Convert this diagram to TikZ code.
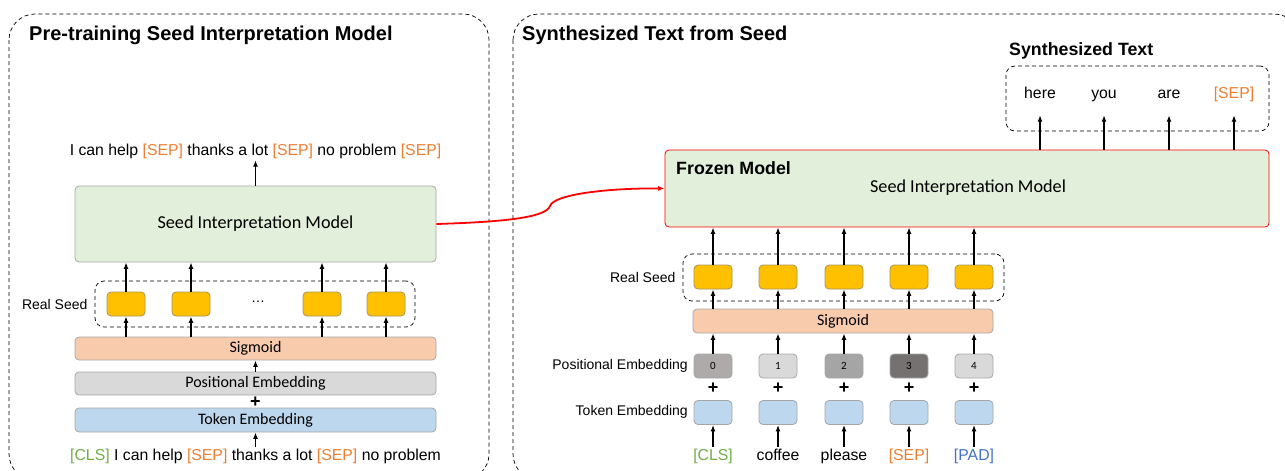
\documentclass[tikz,border=0pt]{standalone}
\usepackage{fontspec}
\setmainfont{Liberation Sans}
\newfontfamily\cfont{Carlito}
\usepackage{tikz}
\usetikzlibrary{positioning,arrows.meta}

\definecolor{sepc}{HTML}{ED7D31}
\definecolor{clsc}{HTML}{70AD47}
\definecolor{padc}{HTML}{4472C4}
\definecolor{modelc}{HTML}{E2EFDA}
\definecolor{seedc}{HTML}{FFC000}
\definecolor{sigc}{HTML}{F8CBAD}
\definecolor{posc}{HTML}{D9D9D9}
\definecolor{tokc}{HTML}{BDD7EE}
\definecolor{edgec}{HTML}{A6A6A6}

\newcommand{\sep}{\textcolor{sepc}{[SEP]}}

\tikzset{
  box/.style={draw=edgec, line width=0.8pt, rounded corners=4pt, inner sep=0pt,
    font=\cfont\fontsize{16}{19}\selectfont},
  seedbox/.style={box, fill=seedc, draw=gray!70!seedc, minimum width=38pt, minimum height=24pt},
  tokbox/.style={box, fill=tokc, minimum width=38pt, minimum height=24pt},
  posbox/.style={box, minimum width=38pt, minimum height=24pt, font=\cfont\fontsize{11}{13}\selectfont},
  groupbox/.style={draw, dashed, dash pattern=on 4pt off 3pt, line width=0.7pt, rounded corners=9pt, inner sep=0pt},
  lbl/.style={font=\fontsize{14}{17}\selectfont, inner sep=2pt},
  title/.style={font=\bfseries\fontsize{20}{24}\selectfont, anchor=west, inner sep=0pt},
  subtitle/.style={title, font=\bfseries\fontsize{17.8}{21}\selectfont},
  word/.style={lbl, font=\fontsize{15.8}{19}\selectfont, text height=11pt, text depth=3pt},
  plus/.style={font=\bfseries\fontsize{18}{18}\selectfont, inner sep=0pt},
}

\begin{document}
\begin{tikzpicture}[x=1pt, y=-1pt, >={Latex[length=6.5pt,width=5pt]}, arr/.style={->, line width=1.6pt}]
  \useasboundingbox (0,0) rectangle (1285,471);

  % Draw the two dashed panels
  \draw[dashed, dash pattern=on 4pt off 3pt, line width=0.7pt, rounded corners=26pt] (9,14) rectangle (489,480);
  \draw[dashed, dash pattern=on 4pt off 3pt, line width=0.7pt, rounded corners=26pt] (513,14) rectangle (1300,480);
  \node[title] (ltitle) at (29,35) {Pre-training Seed Interpretation Model};
  \node[title] (rtitle) at (522,35) {Synthesized Text from Seed};

  % Left panel: the model being trained
  \node[box, fill=modelc, minimum width=361pt, minimum height=76pt,
    font=\cfont\fontsize{18.2}{22}\selectfont] (lmodel) at (255.5,224) {Seed Interpretation Model};
  \node[word] (lout) at (255.5,151) {I can help \sep{} thanks a lot \sep{} no problem \sep};
  \draw[arr] (lmodel.north) -- (lout.south);

  % Real seed vectors
  \node[groupbox, minimum width=320pt, minimum height=46pt] (lgroup) at (255,304) {};
  \node[lbl, anchor=east] (lseedlbl) at ([xshift=-5pt]lgroup.west) {Real Seed};
  \foreach \x/\n in {126/1,191/2,322/3,386/4}
    \node[seedbox] (ls\n) at (\x,304) {};
  \node[lbl] (ldots) at (258,302) {\dots};

  % Sigmoid and embeddings
  \node[box, fill=sigc, minimum width=361pt, minimum height=23pt] (lsig) at (255.5,348.5) {Sigmoid};
  \node[box, fill=posc, minimum width=361pt, minimum height=23pt] (lpos) at (255.5,383.5) {Positional Embedding};
  \node[plus] (lplus) at (255.5,402) {+};
  \node[box, fill=tokc, minimum width=361pt, minimum height=24pt] (ltok) at (255.5,420) {Token Embedding};
  \node[word] (lin) at (255.5,456) {\textcolor{clsc}{[CLS]} I can help \sep{} thanks a lot \sep{} no problem};

  \foreach \n in {1,2,3,4} {
    \draw[arr] (ls\n.north) -- (ls\n.north |- lmodel.south);
    \draw[arr] (ls\n.south |- lsig.north) -- (ls\n.south);
  }
  \draw[arr] (lpos.north) -- (lsig.south);
  \draw[arr] (lin.north) -- (ltok.south);

  % Right panel: frozen model
  \node[box, fill=modelc, draw=red, minimum width=604pt, minimum height=77pt] (rmodel) at (967,188.5) {};
  \node[subtitle] (frozen) at (676,168) {Frozen Model};
  \node[font=\cfont\fontsize{18.2}{22}\selectfont] (rname) at (968,188) {Seed Interpretation Model};

  % Synthesized words
  \node[groupbox, minimum width=263pt, minimum height=65pt] (sgroup) at (1137.5,98.5) {};
  \node[subtitle] (stitle) at (1009,51) {Synthesized Text};
  \foreach \x/\w/\n in {1040/here/1,1104/you/2,1169/are/3,1234/\sep/4} {
    \node[word] (w\n) at (\x,94) {\w};
    \draw[arr] (w\n.south |- rmodel.north) -- ([yshift=-12pt]w\n.south);
  }

  % Seed, sigmoid and embeddings on the right
  \node[groupbox, minimum width=321pt, minimum height=47pt] (rgroup) at (843.5,277.5) {};
  \node[lbl, anchor=east] (rseedlbl) at ([xshift=-5pt]rgroup.west) {Real Seed};
  \node[box, fill=sigc, minimum width=300pt, minimum height=24pt] (rsig) at (843,321) {Sigmoid};
  \node[lbl, anchor=east] (rposlbl) at (690,366) {Positional Embedding};
  \node[lbl, anchor=east] (rtoklbl) at (690,412) {Token Embedding};

  \foreach \x/\n/\g/\w in {713/0/AEAAAA/\textcolor{clsc}{[CLS]},
                          778/1/D9D9D9/coffee,
                          844/2/A5A5A5/please,
                          909/3/767171/\sep,
                          974/4/D9D9D9/\textcolor{padc}{[PAD]}} {
    \definecolor{pc}{HTML}{\g}
    \node[seedbox] (rs\n) at (\x,277) {};
    \node[posbox, fill=pc] (rp\n) at (\x,366) {\n};
    \node[plus] (rplus\n) at (\x,388) {+};
    \node[tokbox] (rt\n) at (\x,412.5) {};
    \node[word] (rin\n) at (\x,456) {\w};
    \draw[arr] (rs\n.north) -- (rs\n.north |- rmodel.south);
    \draw[arr] (rs\n.south |- rsig.north) -- (rs\n.south);
    \draw[arr] (rp\n.north) -- (rp\n.north |- rsig.south);
    \draw[arr] (rin\n.north) -- (rt\n.south);
  }

  % Red link from trained model to frozen copy
  \draw[red, line width=1.8pt, ->] (lmodel.east) .. controls (500,222) and (546,218) .. (550,206)
    .. controls (554,194) and (610,188) .. (rmodel.west);

\end{tikzpicture}
\end{document}
